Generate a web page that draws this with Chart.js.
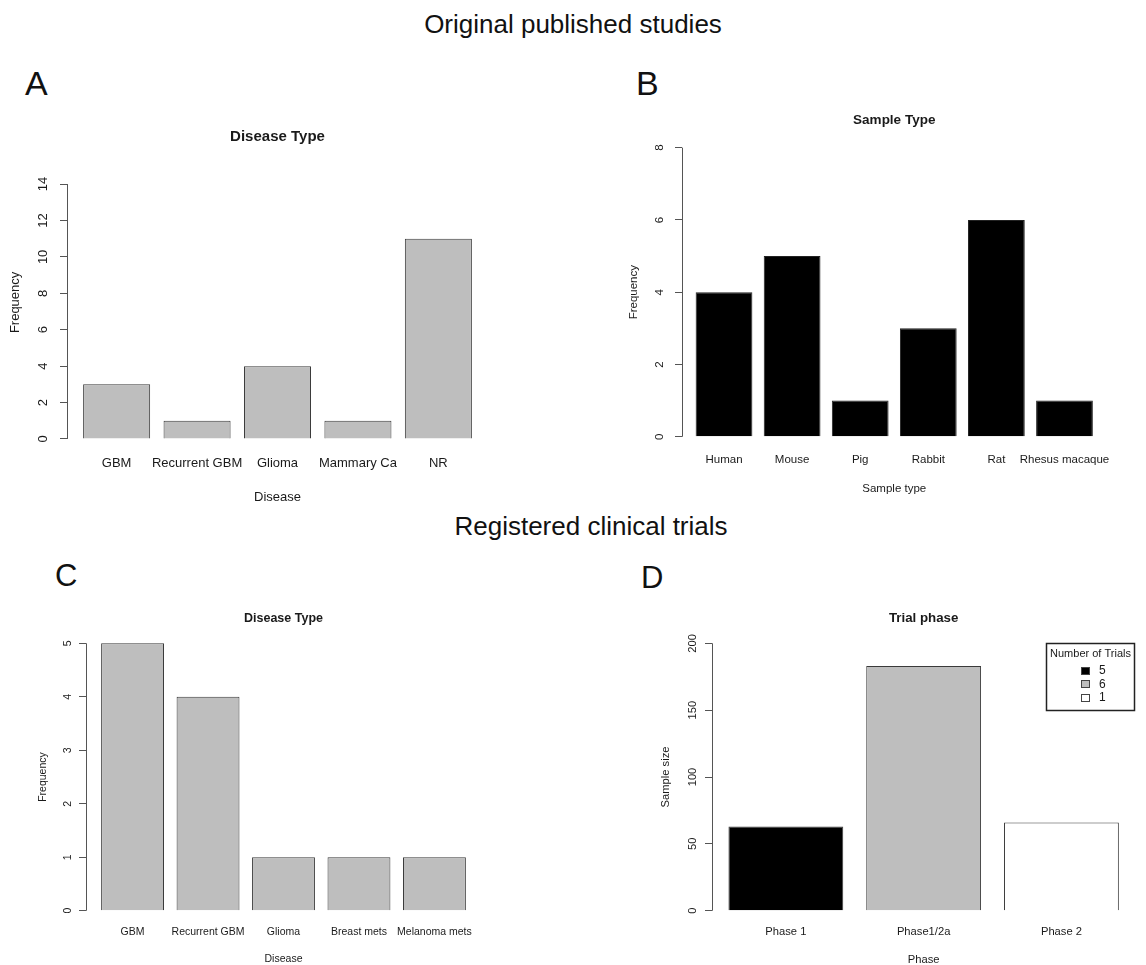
<!DOCTYPE html>
<html><head><meta charset="utf-8">
<script src="https://cdn.jsdelivr.net/npm/chart.js@4.4.0/dist/chart.umd.min.js"></script>
<style>
body{margin:0;background:#fff;width:1146px;height:965px;position:relative;overflow:hidden;font-family:'Liberation Sans',Arial,sans-serif;}
canvas{position:absolute;}
.t{position:absolute;line-height:1;white-space:nowrap;color:#111;}
</style></head><body>
<div class="t" style="left:273px;width:600px;text-align:center;top:11px;font-size:26px">Original published studies</div>
<div class="t" style="left:291px;width:600px;text-align:center;top:513px;font-size:26px">Registered clinical trials</div>
<div class="t" style="left:25px;top:66px;font-size:34px">A</div>
<div class="t" style="left:636px;top:66px;font-size:34px">B</div>
<div class="t" style="left:55px;top:560px;font-size:31px">C</div>
<div class="t" style="left:641px;top:562px;font-size:31px">D</div>
<script>
// ---- data ----
const diseaseCatsA = ['GBM', 'Recurrent GBM', 'Glioma', 'Mammary Ca', 'NR'];
const diseaseFreqA = [3, 1, 4, 1, 11];
const yTicksA = [0, 2, 4, 6, 8, 10, 12, 14];

const sampleCats = ['Human', 'Mouse', 'Pig', 'Rabbit', 'Rat', 'Rhesus macaque'];
const sampleFreq = [4, 5, 1, 3, 6, 1];
const yTicksB = [0, 2, 4, 6, 8];

const diseaseCatsC = ['GBM', 'Recurrent GBM', 'Glioma', 'Breast mets', 'Melanoma mets'];
const diseaseFreqC = [5, 4, 1, 1, 1];
const yTicksC = [0, 1, 2, 3, 4, 5];

const phaseCats = ['Phase 1', 'Phase1/2a', 'Phase 2'];
const phaseSampleSize = [63, 183, 66];
const phaseTrialCounts = [5, 6, 1];
const phaseColors = ['#000000', '#bebebe', '#ffffff'];
const yTicksD = [0, 50, 100, 150, 200];

// ---- drawing ----
const FONT = "'Liberation Sans', Arial, sans-serif";
const TXT = '#1a1a1a';
Chart.defaults.font.family = FONT;
Chart.defaults.color = TXT;
const AXIS = '#555';

const axisLine = {
  id: 'axisLine',
  afterDraw(chart) {
    const y = chart.scales.y, ctx = chart.ctx;
    const t = y.ticks;
    const x = Math.round(chart.chartArea.left) + 0.5;
    ctx.save();
    ctx.strokeStyle = AXIS; ctx.lineWidth = 1;
    ctx.beginPath();
    ctx.moveTo(x, y.getPixelForValue(t[0].value));
    ctx.lineTo(x, y.getPixelForValue(t[t.length - 1].value));
    ctx.stroke();
    ctx.restore();
  }
};

const trialLegend = {
  id: 'trialLegend',
  afterDraw(chart) {
    const ca = chart.chartArea, y = chart.scales.y, ctx = chart.ctx;
    const top = Math.round(y.getPixelForValue(yTicksD[yTicksD.length - 1])) + 0.5;
    const w = 88, h = 67;
    const left = Math.round(ca.right - 1 - w) + 0.5;
    ctx.save();
    ctx.fillStyle = '#fff'; ctx.fillRect(left, top, w, h);
    ctx.strokeStyle = '#222'; ctx.lineWidth = 1.5; ctx.strokeRect(left, top, w, h);
    ctx.fillStyle = TXT; ctx.font = '11px ' + FONT;
    ctx.textAlign = 'center'; ctx.textBaseline = 'middle';
    ctx.fillText('Number of Trials', left + w / 2, top + 10);
    phaseTrialCounts.forEach((n, i) => {
      const cy = top + 27 + i * 13.5;
      const sx = left + 38.5;
      ctx.fillStyle = phaseColors[i];
      ctx.fillRect(Math.round(sx - 4.5), Math.round(cy - 4), 9, 8);
      ctx.strokeStyle = '#444'; ctx.lineWidth = 1;
      ctx.strokeRect(Math.round(sx - 4.5) + 0.5, Math.round(cy - 4) + 0.5, 8, 7);
      ctx.fillStyle = TXT; ctx.textAlign = 'left';
      ctx.font = '12px ' + FONT;
      ctx.fillText(String(n), left + 52.5, cy + 0.5);
    });
    ctx.restore();
  }
};

function panel(o) {
  const cv = document.createElement('canvas');
  cv.width = o.cw; cv.height = o.ch;
  cv.style.left = o.cx + 'px'; cv.style.top = o.cy + 'px';
  document.body.appendChild(cv);
  const lh = s => s * 1.2;
  const m = document.createElement('canvas').getContext('2d');
  m.font = o.fs + 'px ' + FONT;
  const widest = Math.max(...o.yTicks.map(v => m.measureText(String(v)).width));
  const TL = 7;
  const yTickPad = o.L - o.cx - TL - (o.yLabX - o.cx) - widest / 2;
  const titlePadTop = o.titleY + 1.5 - o.cy - lh(o.fsT) / 2;
  const titlePadBot = o.T - o.cy - titlePadTop - lh(o.fsT);
  const xTitlePadBot = (o.cy + o.ch) - o.xTitleY - 0.5 - lh(o.fs) / 2;
  const yTitlePadTop = o.yTitleX + 0.5 - o.cx - lh(o.fs) / 2;
  const xTickPad = o.xLabY + 0.5 - o.B - 0.6 * o.fs;
  new Chart(cv, {
    type: 'bar',
    data: {
      datasets: [{
        data: o.cats.map((c, i) => ({ x: i, y: o.vals[i] })),
        backgroundColor: o.fill, borderColor: o.stroke, borderWidth: 1,
        barPercentage: 1 / 1.2, categoryPercentage: 1
      }]
    },
    options: {
      responsive: false, animation: false, events: [],
      layout: { padding: { left: 0, top: 0, bottom: 0, right: o.cx + o.cw - o.R } },
      plugins: {
        legend: { display: false }, tooltip: { enabled: false },
        title: { display: true, text: o.title, fullSize: false, color: TXT,
          font: { size: o.fsT, weight: 'bold' }, padding: { top: titlePadTop, bottom: titlePadBot } }
      },
      scales: {
        x: {
          type: 'linear', min: o.xMin, max: o.xMax, offset: false,
          afterBuildTicks: s => { s.ticks = o.cats.map((c, i) => ({ value: i })); },
          afterFit: s => { s.height = o.cy + o.ch - o.B; },
          grid: { display: false, drawTicks: false, offset: false }, border: { display: false },
          ticks: { callback: v => o.cats[v], autoSkip: false, maxRotation: 0, minRotation: 0,
            padding: xTickPad, font: { size: o.fs }, color: TXT },
          title: { display: true, text: o.xTitle, font: { size: o.fs }, color: TXT,
            padding: { top: 0, bottom: xTitlePadBot } }
        },
        y: {
          min: o.yMin, max: o.yMax,
          afterBuildTicks: s => { s.ticks = o.yTicks.map(v => ({ value: v })); },
          afterFit: s => { s.width = o.L - o.cx; },
          grid: { drawOnChartArea: false, drawTicks: true, tickLength: TL, color: AXIS },
          border: { display: false },
          ticks: { minRotation: 90, maxRotation: 90, crossAlign: 'center', padding: yTickPad,
            font: { size: o.fs }, color: TXT, callback: v => String(v) },
          title: { display: true, text: o.yTitle, font: { size: o.fs }, color: TXT,
            padding: { top: yTitlePadTop, bottom: 0 } }
        }
      }
    },
    plugins: [axisLine].concat(o.extra || [])
  });
}

panel({ cx: 0, cy: 100, cw: 560, ch: 420, L: 67, R: 488, T: 154.9, B: 449.9,
  xMin: -0.617, xMax: 4.617, yMin: -0.6, yMax: 15.6, yTicks: yTicksA,
  cats: diseaseCatsA, vals: diseaseFreqA, fill: '#bebebe', stroke: '#3a3a3a',
  title: 'Disease Type', fsT: 15, fs: 13, titleY: 135, yTitleX: 15, yLabX: 43, xLabY: 463, xTitleY: 497,
  xTitle: 'Disease', yTitle: 'Frequency' });

panel({ cx: 580, cy: 100, cw: 566, ch: 420, L: 682, R: 1106.5, T: 136.1, B: 448.3,
  xMin: -0.617, xMax: 5.617, yMin: -0.32, yMax: 8.32, yTicks: yTicksB,
  cats: sampleCats, vals: sampleFreq, fill: '#000', stroke: '#222',
  title: 'Sample Type', fsT: 13.5, fs: 11.5, titleY: 119, yTitleX: 633, yLabX: 660, xLabY: 459, xTitleY: 488,
  xTitle: 'Sample type', yTitle: 'Frequency' });

panel({ cx: 0, cy: 600, cw: 570, ch: 365, L: 86, R: 481, T: 632.6, B: 921.4,
  xMin: -0.617, xMax: 4.617, yMin: -0.2, yMax: 5.2, yTicks: yTicksC,
  cats: diseaseCatsC, vals: diseaseFreqC, fill: '#bebebe', stroke: '#3a3a3a',
  title: 'Disease Type', fsT: 12.5, fs: 10.5, titleY: 617, yTitleX: 43, yLabX: 68.5, xLabY: 931.7, xTitleY: 958.7,
  xTitle: 'Disease', yTitle: 'Frequency' });

panel({ cx: 600, cy: 600, cw: 546, ch: 365, L: 712, R: 1135.3, T: 632.6, B: 921.4,
  xMin: -0.536, xMax: 2.536, yMin: -8, yMax: 208, yTicks: yTicksD,
  cats: phaseCats, vals: phaseSampleSize, fill: phaseColors, stroke: '#3a3a3a',
  title: 'Trial phase', fsT: 13.3, fs: 11.2, titleY: 616.7, yTitleX: 665.3, yLabX: 693.3, xLabY: 931.3, xTitleY: 959,
  xTitle: 'Phase', yTitle: 'Sample size', extra: [trialLegend] });
</script>
</body></html>
